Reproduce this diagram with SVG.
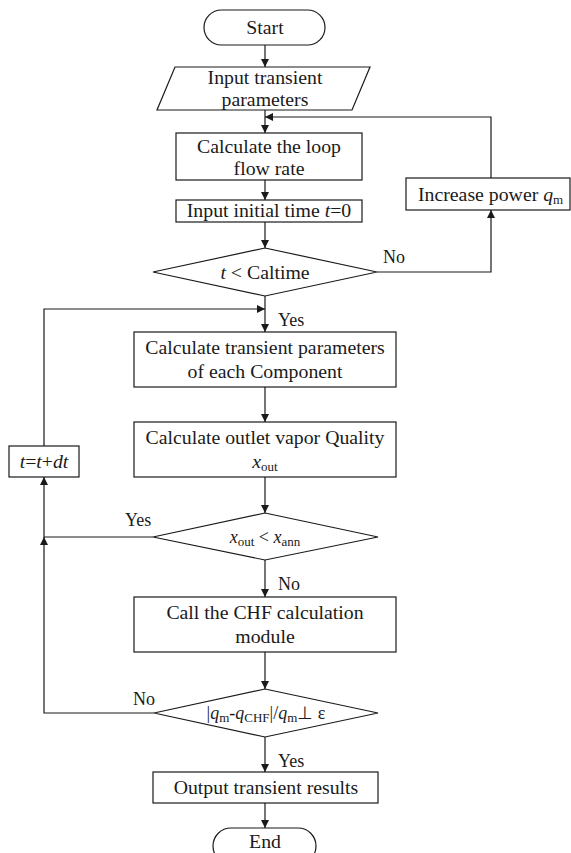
<svg xmlns="http://www.w3.org/2000/svg" width="571" height="853" viewBox="0 0 571 853">
<defs>
<marker id="ah" viewBox="0 0 10 10" refX="10" refY="5" markerWidth="8" markerHeight="8" markerUnits="userSpaceOnUse" orient="auto">
<path d="M0,0 L10,5 L0,10 z" fill="#1a1a1a"/>
</marker>
<style>
.s{fill:#fff;stroke:#1a1a1a;stroke-width:1.2}
.c{fill:none;stroke:#1a1a1a;stroke-width:1.2}
.a{fill:none;stroke:#1a1a1a;stroke-width:1.2;marker-end:url(#ah)}
text{font-family:"Liberation Serif","Times New Roman",serif;font-size:19.8px;fill:#1a1a1a}
.m{text-anchor:middle}
.i{font-style:italic}
.sub{font-size:13px}
.l{font-size:18px}
</style>
</defs>
<rect width="571" height="853" fill="#fff"/>
<g id="connectors">
<line class="a" x1="265" y1="45" x2="265" y2="67"/>
<line class="a" x1="265" y1="110" x2="265" y2="133"/>
<polyline class="a" points="491,178 491,117 265,117"/>
<line class="a" x1="265" y1="180" x2="265" y2="200"/>
<line class="a" x1="265" y1="222" x2="265" y2="248"/>
<polyline class="a" points="377,272 491,272 491,210"/>
<line class="a" x1="265" y1="296" x2="265" y2="332"/>
<polyline class="a" points="44,446 44,309 265,309"/>
<line class="a" x1="265" y1="387" x2="265" y2="422"/>
<line class="a" x1="265" y1="477" x2="265" y2="513"/>
<polyline class="a" points="153,537 44,537 44,477"/>
<line class="a" x1="265" y1="560" x2="265" y2="597"/>
<line class="a" x1="265" y1="652" x2="265" y2="689"/>
<polyline class="a" points="154,713 44,713 44,537"/>
<line class="a" x1="265" y1="737" x2="265" y2="772"/>
<line class="a" x1="265" y1="803" x2="265" y2="828"/>
</g>
<g id="labels">
<text x="383" y="263" class="l">No</text>
<text x="278" y="326" class="l">Yes</text>
<text x="125" y="526" class="l">Yes</text>
<text x="278" y="590" class="l">No</text>
<text x="133" y="705" class="l">No</text>
<text x="278" y="767" class="l">Yes</text>
</g>
<g id="start">
<rect class="s" x="204" y="10" width="121" height="35" rx="17.5"/>
<text x="265" y="34" class="m">Start</text>
</g>
<g id="input">
<polygon class="s" points="175,67 370,67 352,110 157,110"/>
<text x="265" y="84" class="m">Input transient</text>
<text x="265" y="106" class="m">parameters</text>
</g>
<g id="loopflow">
<rect class="s" x="176" y="133" width="186" height="47"/>
<text x="269" y="153" class="m">Calculate the loop</text>
<text x="269" y="175" class="m">flow rate</text>
</g>
<g id="inittime">
<rect class="s" x="176" y="200" width="186" height="22"/>
<text x="269" y="217" class="m">Input initial time <tspan class="i">t</tspan>=0</text>
</g>
<g id="caltime">
<polygon class="s" points="265,248 377,272 265,296 153,272"/>
<text x="265" y="279" class="m"><tspan class="i">t</tspan> &lt; Caltime</text>
</g>
<g id="power">
<rect class="s" x="406" y="178" width="164" height="32"/>
<text x="418" y="201">Increase power <tspan class="i">q</tspan><tspan class="sub" dy="3">m</tspan></text>
</g>
<g id="transient">
<rect class="s" x="134" y="332" width="262" height="55"/>
<text x="265" y="354" class="m">Calculate transient parameters</text>
<text x="265" y="378" class="m">of each Component</text>
</g>
<g id="quality">
<rect class="s" x="134" y="422" width="262" height="55"/>
<text x="265" y="444" class="m">Calculate outlet vapor Quality</text>
<text x="265" y="468" class="m"><tspan class="i">x</tspan><tspan class="sub" dy="3">out</tspan></text>
</g>
<g id="step">
<rect class="s" x="9" y="446" width="70" height="31"/>
<text x="44" y="468" class="m"><tspan class="i">t</tspan>=<tspan class="i">t</tspan>+<tspan class="i">dt</tspan></text>
</g>
<g id="xcheck">
<polygon class="s" points="265,513 378,537 265,560 153,537"/>
<text x="265" y="543" class="m" style="font-size:18px"><tspan class="i">x</tspan><tspan class="sub" dy="3">out</tspan><tspan dy="-3"> &lt; </tspan><tspan class="i">x</tspan><tspan class="sub" dy="3">ann</tspan></text>
</g>
<g id="chf">
<rect class="s" x="134" y="597" width="262" height="55"/>
<text x="265" y="619" class="m">Call the CHF calculation</text>
<text x="265" y="643" class="m">module</text>
</g>
<g id="qcheck">
<polygon class="s" points="265,689 378,713 265,737 154,713"/>
<text x="266" y="719" class="m" style="font-size:18px">|<tspan class="i">q</tspan><tspan class="sub" dy="3">m</tspan><tspan dy="-3">-</tspan><tspan class="i">q</tspan><tspan class="sub" dy="3">CHF</tspan><tspan dy="-3">|/</tspan><tspan class="i">q</tspan><tspan class="sub" dy="3">m</tspan><tspan dy="-3">⊥ ε</tspan></text>
</g>
<g id="output">
<rect class="s" x="153" y="772" width="225" height="31"/>
<text x="266" y="794" class="m">Output transient results</text>
</g>
<g id="end">
<rect class="s" x="213" y="828" width="103" height="36" rx="18"/>
<text x="265" y="848" class="m">End</text>
</g>
</svg>
